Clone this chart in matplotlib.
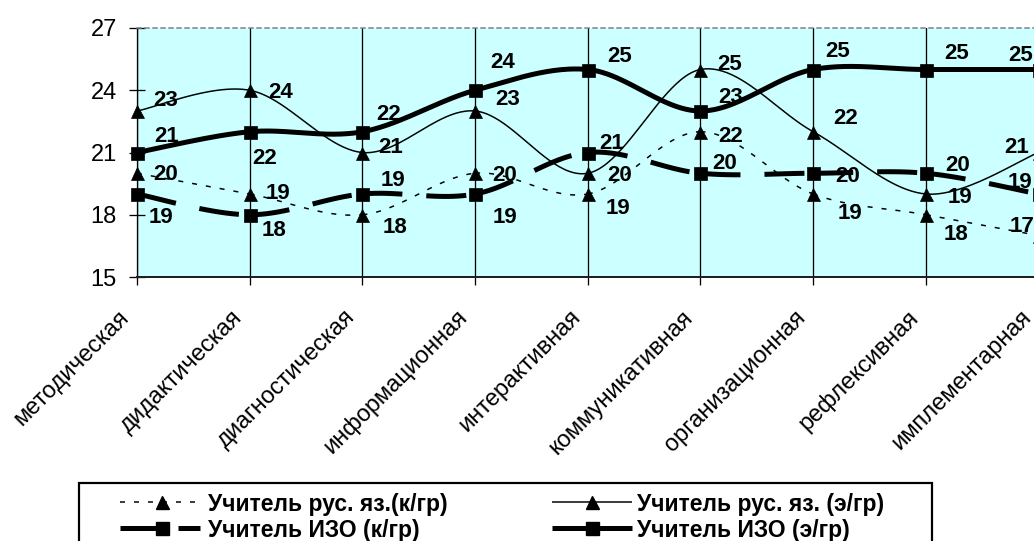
import numpy as np
import matplotlib
matplotlib.use("Agg")
import matplotlib.pyplot as plt
from matplotlib.lines import Line2D
from matplotlib.patches import Rectangle

plt.rcParams['font.family'] = ['Liberation Sans', 'DejaVu Sans']
plt.rcParams['lines.scale_dashes'] = False

# ---- data -------------------------------------------------------------
categories = ["методическая", "дидактическая", "диагностическая",
              "информационная", "интерактивная", "коммуникативная",
              "организационная", "рефлексивная", "имплементарная"]
rus_control = [20, 19, 18, 20, 19, 22, 19, 18, 17]
rus_experimental = [23, 24, 21, 23, 20, 25, 22, 19, 21]
art_control = [19, 18, 19, 19, 21, 20, 20, 20, 19]
art_experimental = [21, 22, 22, 24, 25, 23, 25, 25, 25]
series_names = ["Учитель рус. яз.(к/гр)", "Учитель рус. яз. (э/гр)",
                "Учитель ИЗО (к/гр)", "Учитель ИЗО (э/гр)"]
y_ticks = [15, 18, 21, 24, 27]

# value-label offsets (pixels: right, down) relative to each point
rus_control_lbl = [(29, -1), (28, -3), (33, 10), (30, 0), (30, 12.5),
                   (30, 2), (37, 17), (30, 17), (-17, -11.5)]
rus_experimental_lbl = [(28.5, -12.5), (31, 0), (28, -7.5), (32.5, -13.5),
                        (31.5, 0), (29, -7), (32, -16), (34, 1), (-22, -7)]
art_control_lbl = [(23.5, 21.5), (24, 13), (31, -15.5), (30, 21), (24, -11),
                   (24, -12), (34, 1), (31.5, -10), (-18.5, -14)]
art_experimental_lbl = [(29.5, -18), (15, 24.5), (26, -20), (27.5, -30),
                        (31.5, -15), (30, -15.5), (24, -20), (30.5, -18),
                        (-17.5, -16)]

W, H = 1034, 541
DPI = 100
PX = 72.0 / DPI   # points per pixel

fig = plt.figure(figsize=(W / DPI, H / DPI), dpi=DPI)
fig.patch.set_facecolor('white')

# plot area (the right border falls just past the image edge)
left, right, top, bottom = 137, 1038.6, 28, 277
ax = fig.add_axes([left / W, 1 - bottom / H, (right - left) / W, (bottom - top) / H])
ax.set_facecolor('#CCFFFF')
ax.set_xlim(0, len(categories) - 1)
ax.set_ylim(15, 27)


def smooth_segments(vals, n=48):
    """Bezier segments through the points (Catmull-Rom style smoothing)."""
    pts = np.column_stack([np.arange(len(vals), dtype=float),
                           np.asarray(vals, dtype=float)])
    t = np.linspace(0, 1, n)[:, None]
    segs = []
    for i in range(len(pts) - 1):
        p0, p3 = pts[i], pts[i + 1]
        pm = pts[i - 1] if i > 0 else pts[i]
        pn = pts[i + 2] if i + 2 < len(pts) else pts[i + 1]
        c1 = p0 + (p3 - pm) / 6.0
        c2 = p3 - (pn - p0) / 6.0
        b = ((1 - t) ** 3) * p0 + 3 * ((1 - t) ** 2) * t * c1 \
            + 3 * (1 - t) * t ** 2 * c2 + t ** 3 * p3
        segs.append(b)
    return segs


thin = 1.5 * PX
thick = 5.0 * PX
dotted = (0, (5 * PX, 9 * PX))
long_dash = (0, (40 * PX, 24 * PX))
msize = 13 * PX

styles = [
    dict(vals=rus_control, lbl=rus_control_lbl, lw=thin, ls=dotted, marker='^'),
    dict(vals=rus_experimental, lbl=rus_experimental_lbl, lw=thin, ls='-', marker='^'),
    dict(vals=art_control, lbl=art_control_lbl, lw=thick, ls=long_dash, marker='s'),
    dict(vals=art_experimental, lbl=art_experimental_lbl, lw=thick, ls='-', marker='s'),
]

label_size = 16
cap_half = 0.716 * label_size / PX / 2.0   # half cap height in pixels

for k, st in enumerate(styles):
    segs = smooth_segments(st['vals'])
    z = 3 + k
    if st['ls'] == '-':
        curve = np.vstack(segs)
        ax.plot(curve[:, 0], curve[:, 1], color='black', lw=st['lw'],
                solid_joinstyle='round', solid_capstyle='butt', zorder=z,
                clip_on=False)
    else:
        # dash pattern restarts at every point
        for seg in segs:
            ax.plot(seg[:, 0], seg[:, 1], color='black', lw=st['lw'],
                    linestyle=st['ls'], dash_capstyle='butt', zorder=z,
                    clip_on=False)
    xs = np.arange(len(st['vals']))
    ax.plot(xs, st['vals'], linestyle='none', marker=st['marker'],
            ms=msize, color='black', mec='black', mew=0.5, zorder=z + 0.5,
            clip_on=False)
    for i, v in enumerate(st['vals']):
        dx, dy = st['lbl'][i]
        ax.annotate(f"{v}", xy=(i, v), xytext=(dx, -(dy + cap_half)),
                    textcoords='offset pixels', ha='center', va='baseline',
                    fontsize=label_size, fontweight='bold', color='black',
                    zorder=10, annotation_clip=False)

# axes, ticks, grid
ax.set_xticks(range(len(categories)))
ax.tick_params(axis='x', direction='out', length=8 * PX, width=1.3 * PX,
               labelbottom=False, colors='black')
# slanted category names, ending just left of each tick
for i, name in enumerate(categories):
    ax.annotate(name, xy=(i, 15), xytext=(-11, -37),
                textcoords='offset pixels', rotation=45,
                rotation_mode='anchor', ha='right', va='center',
                fontsize=17, color='black', annotation_clip=False)

ax.set_yticks(y_ticks)
ax.tick_params(axis='y', direction='inout', length=16 * PX, width=1.3 * PX,
               pad=12 * PX, labelsize=17, colors='black')
ax.grid(axis='x', color='black', linewidth=1.3 * PX)
ax.grid(axis='y', visible=False)
ax.set_axisbelow(True)

ax.spines['left'].set_color('black')
ax.spines['left'].set_linewidth(1.3 * PX)
ax.spines['bottom'].set_color('#202020')
ax.spines['bottom'].set_linewidth(2 * PX)
ax.spines['right'].set_visible(False)
ax.spines['top'].set_color('#808080')
ax.spines['top'].set_linewidth(1.5 * PX)
ax.spines['top'].set_linestyle((0, (4 * PX, 4 * PX)))


# ---- legend -----------------------------------------------------------
def fx(x):
    return x / W


def fy(y):
    return 1 - y / H


fig.add_artist(Rectangle((fx(79), fy(545)), fx(932) - fx(79), fy(483) - fy(545),
                         transform=fig.transFigure, fill=False,
                         edgecolor='black', linewidth=2.2 * PX))

legend_dash = (0, (42 * PX, 16 * PX))
rows = [502, 528]
cols = [(120, 200, 162, 208), (552, 632, 592, 637)]
entries = [
    (0, 0, thin, dotted, '^'),
    (0, 1, thin, '-', '^'),
    (1, 0, thick, legend_dash, 's'),
    (1, 1, thick, '-', 's'),
]
for (row, col, lw, ls, mk), name in zip(entries, series_names):
    x0, x1, xm, xt = cols[col]
    y = rows[row]
    fig.add_artist(Line2D([fx(x0), fx(x1)], [fy(y), fy(y)],
                          transform=fig.transFigure, color='black', lw=lw,
                          linestyle=ls, solid_capstyle='butt',
                          dash_capstyle='butt'))
    fig.add_artist(Line2D([fx(xm)], [fy(y)], transform=fig.transFigure,
                          marker=mk, ms=msize, color='black', linestyle='none'))
    fig.text(fx(xt), fy(y), name, fontsize=16.5, fontweight='bold',
             ha='left', va='center_baseline', color='black')

fig.savefig('out.png', dpi=DPI)
